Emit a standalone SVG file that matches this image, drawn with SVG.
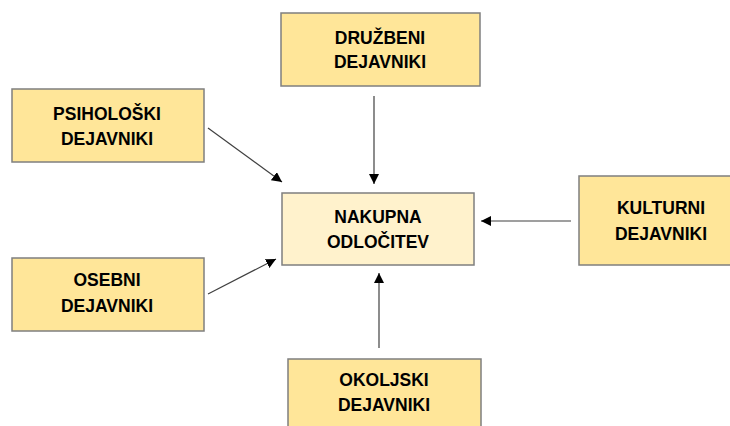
<svg xmlns="http://www.w3.org/2000/svg" width="730" height="426" viewBox="0 0 730 426">
<defs>
<marker id="ah" viewBox="0 0 10 10" refX="10" refY="5" markerWidth="10" markerHeight="10" markerUnits="userSpaceOnUse" orient="auto">
<path d="M0,0 L10,5 L0,10 z" fill="#000"/>
</marker>
<style>
.box{fill:#FFE699;stroke:#7F7F7F;stroke-width:1.5}
.center{fill:#FFF2CC;stroke:#7F7F7F;stroke-width:1.5}
.t{font-family:"Liberation Sans",Arial,sans-serif;font-weight:bold;font-size:17.5px;fill:#000;text-anchor:middle}
.c{stroke:#404040;stroke-width:1.2;fill:none;marker-end:url(#ah)}
</style>
</defs>
<rect width="730" height="426" fill="#fff"/>
<g id="connectors">
<line class="c" x1="374" y1="96" x2="374" y2="184"/>
<line class="c" x1="208" y1="128" x2="282" y2="182"/>
<line class="c" x1="208" y1="294" x2="276" y2="259"/>
<line class="c" x1="571" y1="221" x2="481" y2="221"/>
<line class="c" x1="379" y1="348" x2="379" y2="273"/>
</g>
<g id="druzbeni">
<rect class="box" x="281" y="13" width="199" height="73"/>
<text class="t" x="380" y="44">DRUŽBENI</text>
<text class="t" x="380" y="68">DEJAVNIKI</text>
</g>
<g id="psiholoski">
<rect class="box" x="12" y="89" width="192" height="73"/>
<text class="t" x="107" y="120">PSIHOLOŠKI</text>
<text class="t" x="107" y="145">DEJAVNIKI</text>
</g>
<g id="nakupna">
<rect class="center" x="282" y="193" width="192" height="72"/>
<text class="t" x="378" y="223">NAKUPNA</text>
<text class="t" x="378" y="248">ODLOČITEV</text>
</g>
<g id="osebni">
<rect class="box" x="12" y="258" width="192" height="73"/>
<text class="t" x="107" y="286">OSEBNI</text>
<text class="t" x="107" y="312">DEJAVNIKI</text>
</g>
<g id="kulturni">
<rect class="box" x="579" y="176" width="160" height="89"/>
<text class="t" x="661" y="214">KULTURNI</text>
<text class="t" x="661" y="240">DEJAVNIKI</text>
</g>
<g id="okoljski">
<rect class="box" x="288" y="359" width="193" height="80"/>
<text class="t" x="384" y="386">OKOLJSKI</text>
<text class="t" x="384" y="411">DEJAVNIKI</text>
</g>
</svg>
